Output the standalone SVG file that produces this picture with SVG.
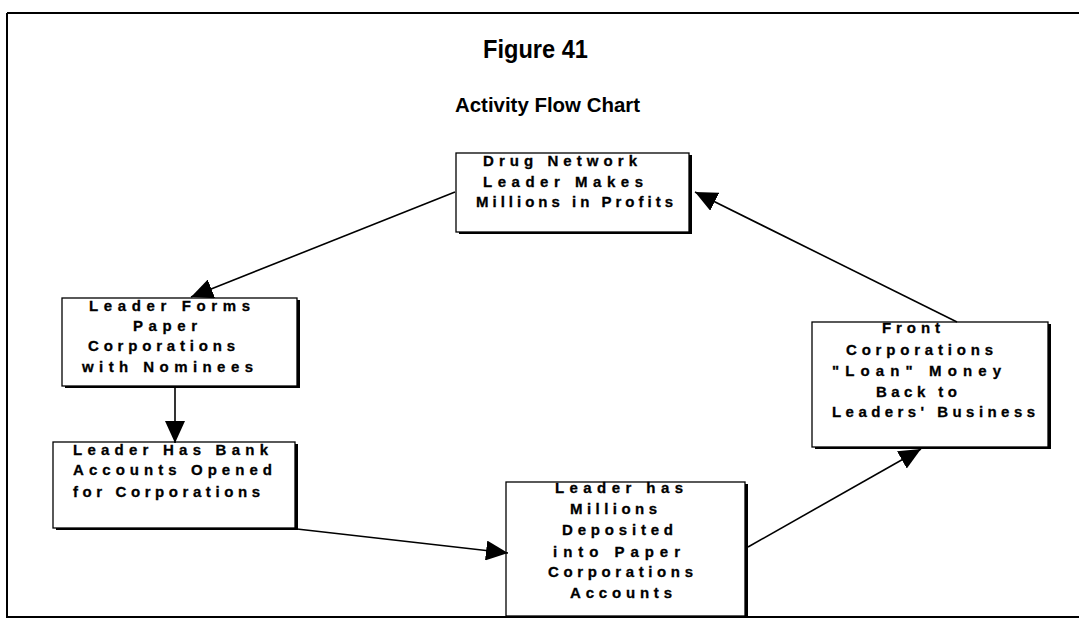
<svg xmlns="http://www.w3.org/2000/svg" width="1079" height="627" viewBox="0 0 1079 627">
  <style>
    .frame { fill: none; stroke: #000; stroke-width: 2; }
    .box { fill: #fff; stroke: #000; stroke-width: 1.3; }
    .shadow { fill: #000; }
    .lbl { font-family: "Liberation Sans", Arial, sans-serif; font-weight: bold; font-size: 15px; fill: #000; stroke: #000; stroke-width: 0.3; }
    .title { font-family: "Liberation Sans", Arial, sans-serif; font-weight: bold; fill: #000; }
    .conn { fill: none; stroke: #000; stroke-width: 1.6; }
  </style>
  <defs>
    <marker id="arrow" markerUnits="userSpaceOnUse" markerWidth="22" markerHeight="20" refX="22" refY="10" orient="auto">
      <path d="M0,0 L22,10 L0,20 z" fill="#000"/>
    </marker>
  </defs>
  <rect x="0" y="0" width="1079" height="627" fill="#fff"/>
  <path class="frame" d="M7,13 H1079 M7,13 V617 H1079"/>
  <text class="title" x="483" y="58" font-size="26" textLength="105" lengthAdjust="spacingAndGlyphs">Figure 41</text>
  <text class="title" x="455" y="112" font-size="21" textLength="185" lengthAdjust="spacingAndGlyphs">Activity Flow Chart</text>

  <g id="node-profits">
    <rect class="shadow" x="459" y="155" width="233" height="79"/>
    <rect class="box" x="456" y="153" width="233" height="79"/>
    <text class="lbl" x="483" y="166" textLength="154" lengthAdjust="spacing">Drug Network</text>
    <text class="lbl" x="483" y="187" textLength="160" lengthAdjust="spacing">Leader Makes</text>
    <text class="lbl" x="476" y="207" textLength="197" lengthAdjust="spacing">Millions in Profits</text>
  </g>
  <g id="node-forms">
    <rect class="shadow" x="65" y="300" width="235" height="88"/>
    <rect class="box" x="62" y="298" width="235" height="88"/>
    <text class="lbl" x="89" y="311" textLength="161" lengthAdjust="spacing">Leader Forms</text>
    <text class="lbl" x="133" y="331" textLength="64" lengthAdjust="spacing">Paper</text>
    <text class="lbl" x="88" y="351" textLength="147" lengthAdjust="spacing">Corporations</text>
    <text class="lbl" x="82" y="372" textLength="171" lengthAdjust="spacing">with Nominees</text>
  </g>
  <g id="node-bank">
    <rect class="shadow" x="56" y="444" width="242" height="86"/>
    <rect class="box" x="53" y="442" width="242" height="86"/>
    <text class="lbl" x="73" y="455" textLength="195" lengthAdjust="spacing">Leader Has Bank</text>
    <text class="lbl" x="73" y="475" textLength="199" lengthAdjust="spacing">Accounts Opened</text>
    <text class="lbl" x="73" y="497" textLength="187" lengthAdjust="spacing">for Corporations</text>
  </g>
  <g id="node-deposit">
    <rect class="shadow" x="509" y="484" width="239" height="132"/>
    <rect class="box" x="506" y="482" width="239" height="134"/>
    <text class="lbl" x="555" y="493" textLength="128" lengthAdjust="spacing">Leader has</text>
    <text class="lbl" x="570" y="514" textLength="87" lengthAdjust="spacing">Millions</text>
    <text class="lbl" x="562" y="535" textLength="111" lengthAdjust="spacing">Deposited</text>
    <text class="lbl" x="553" y="557" textLength="127" lengthAdjust="spacing">into Paper</text>
    <text class="lbl" x="548" y="577" textLength="145" lengthAdjust="spacing">Corporations</text>
    <text class="lbl" x="570" y="598" textLength="102" lengthAdjust="spacing">Accounts</text>
  </g>
  <g id="node-loan">
    <rect class="shadow" x="815" y="324" width="236" height="125"/>
    <rect class="box" x="812" y="322" width="236" height="125"/>
    <text class="lbl" x="882" y="333" textLength="58" lengthAdjust="spacing">Front</text>
    <text class="lbl" x="846" y="355" textLength="147" lengthAdjust="spacing">Corporations</text>
    <text class="lbl" x="832" y="376" textLength="169" lengthAdjust="spacing">"Loan" Money</text>
    <text class="lbl" x="876" y="397" textLength="81" lengthAdjust="spacing">Back to</text>
    <text class="lbl" x="832" y="417" textLength="203" lengthAdjust="spacing">Leaders' Business</text>
  </g>

  <g id="connectors">
    <line class="conn" x1="455" y1="192" x2="191" y2="297" marker-end="url(#arrow)"/>
    <line class="conn" x1="175" y1="388" x2="175" y2="443" marker-end="url(#arrow)"/>
    <line class="conn" x1="297" y1="529" x2="508" y2="553" marker-end="url(#arrow)"/>
    <line class="conn" x1="748" y1="547" x2="921" y2="449" marker-end="url(#arrow)"/>
    <line class="conn" x1="957" y1="322" x2="695" y2="192" marker-end="url(#arrow)"/>
  </g>
</svg>
